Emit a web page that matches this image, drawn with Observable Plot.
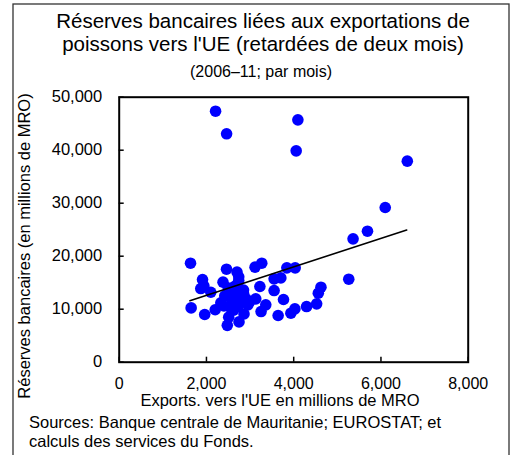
<!DOCTYPE html>
<html>
<head>
<meta charset="utf-8">
<script src="https://cdn.jsdelivr.net/npm/d3@7"></script>
<script src="https://cdn.jsdelivr.net/npm/@observablehq/plot@0.6"></script>
<style>
  html, body { margin: 0; padding: 0; background: #fff; }
  #wrap { position: relative; width: 511px; height: 455px; overflow: hidden; }
  #wrap svg { position: absolute; left: 0; top: 0; }
</style>
</head>
<body>
<div id="wrap"></div>
<script>
// Data (exports to EU, bank reserves; millions MRO)
const exportsUE = [
  2209, 2462, 4096, 4057, 6604, 6098, 5691, 5361, 5262,
  1635, 1649, 1960, 1910, 1941, 1870, 2100, 2200,
  2380, 2460, 2700, 2740, 2740, 2478, 2746, 2861, 2510, 2330, 2420, 2500, 2560,
  2600, 2680, 2720, 2780, 2850, 2900, 2950, 2620, 2850, 2560, 2650, 2400, 3000,
  3114, 3268, 3225, 3130, 3360, 3252, 3551, 3705, 3551, 3766, 3843, 4034, 3643,
  3935, 4027, 4295, 4526, 4564, 4625
];
const reserves = [
  47360, 43090, 45730, 39880, 37930, 29190, 24720, 23270, 15660,
  18680, 10250, 9000, 15600, 14400, 13900, 13200, 9900,
  15100, 17550, 17000, 16100, 15400, 6950, 7600, 9100, 8500, 11200, 12500, 14000, 13000,
  11500, 12800, 10500, 11800, 13000, 12000, 10800, 9800, 13600, 10200, 14300, 10600, 11500,
  17930, 18680, 14280, 11950, 10820, 9560, 15730, 15910, 13520, 11830, 17800, 17800, 8810,
  9250, 10060, 10500, 11010, 13020, 14150
];
// Trend line end points
const trendX = [1620, 6590];
const trendY = [11600, 24950];

const xTicks = [0, 2000, 4000, 6000, 8000];
const yTicks = [0, 10000, 20000, 30000, 40000, 50000];

const titleLines = [
  "Réserves bancaires liées aux exportations de",
  "poissons vers l'UE (retardées de deux mois)"
];
const subtitle = "(2006–11; par mois)";
const xLabel = "Exports. vers l'UE en millions de MRO";
const yLabel = "Réserves bancaires (en millions de MRO)";
const sourceLines = [
  "Sources: Banque centrale de Mauritanie; EUROSTAT; et",
  "calculs des services du Fonds."
];

const points = exportsUE.map((x, i) => ({x, y: reserves[i]}));
const trend = trendX.map((x, i) => ({x, y: trendY[i]}));

const font = "'Liberation Sans', Arial, Helvetica, sans-serif";

const chart = Plot.plot({
  width: 511,
  height: 455,
  marginLeft: 118.7,
  marginRight: 43.3,
  marginTop: 96.7,
  marginBottom: 93.3,
  style: {fontFamily: font, color: "#000", background: "transparent", overflow: "visible"},
  x: {domain: [0, 8000]},
  y: {domain: [0, 50000]},
  marks: [
    Plot.dot(points, {x: "x", y: "y", r: 5.8, fill: "#0000ff", stroke: "none"}),
    Plot.line(trend, {x: "x", y: "y", stroke: "#000", strokeWidth: 1.6}),
    Plot.axisX({ticks: xTicks, tickSize: 0, tickPadding: 15.5, tickFormat: d3.format(","), fontSize: 16, label: null}),
    Plot.axisX({ticks: xTicks, tickSize: -5, text: null, strokeWidth: 1.5, label: null}),
    Plot.axisY({ticks: yTicks, tickSize: 0, tickPadding: 17, tickFormat: d3.format(","), fontSize: 16.5, label: null}),
    Plot.axisY({ticks: yTicks, tickSize: -5, text: null, strokeWidth: 1.5, label: null}),
    Plot.frame({stroke: "#000", strokeWidth: 2})
  ]
});

const wrap = document.getElementById("wrap");
wrap.appendChild(chart);

// Overlay for titles, axis labels, sources and outer border
const ov = d3.select(wrap).append("svg")
  .attr("width", 511).attr("height", 455)
  .attr("font-family", font)
  .style("pointer-events", "none");

ov.append("rect")
  .attr("x", 13).attr("y", 4).attr("width", 496).attr("height", 470)
  .attr("fill", "none").attr("stroke", "#333").attr("stroke-width", 1.3);

ov.selectAll("text.title").data(titleLines).join("text")
  .attr("class", "title")
  .attr("x", 263).attr("y", (d, i) => 28 + i * 22.5)
  .attr("text-anchor", "middle").attr("font-size", 20.5).attr("fill", "#000")
  .text(d => d);

ov.append("text")
  .attr("x", 261).attr("y", 77)
  .attr("text-anchor", "middle").attr("font-size", 16).attr("fill", "#000")
  .text(subtitle);

ov.append("text")
  .attr("x", 280).attr("y", 406)
  .attr("text-anchor", "middle").attr("font-size", 16.5).attr("fill", "#000")
  .text(xLabel);

ov.append("text")
  .attr("transform", "translate(30,246) rotate(-90)")
  .attr("text-anchor", "middle").attr("font-size", 16.5).attr("fill", "#000")
  .text(yLabel);

ov.selectAll("text.src").data(sourceLines).join("text")
  .attr("class", "src")
  .attr("x", 29).attr("y", (d, i) => 428 + i * 19)
  .attr("font-size", 16.5).attr("fill", "#000")
  .text(d => d);
</script>
</body>
</html>
